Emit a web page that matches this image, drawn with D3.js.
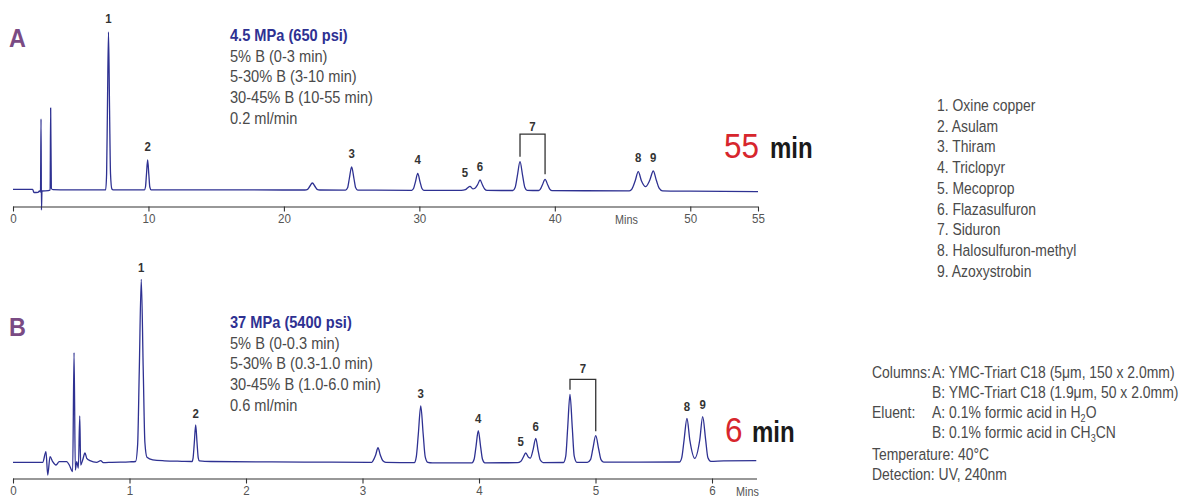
<!DOCTYPE html>
<html>
<head>
<meta charset="utf-8">
<script src="https://cdn.jsdelivr.net/npm/d3@7/dist/d3.min.js"></script>
<style>
  html, body { margin: 0; padding: 0; background: #fff; }
  svg { display: block; }
  text { font-family: 'Liberation Sans', Arial, sans-serif; }
</style>
</head>
<body>
<svg id="chart" width="1180" height="497"></svg>
<script>
// ---------------- DATA ----------------
// Chromatogram A (55 min run): [time (min), signal (rel. units)]
const traceA = [
  [0, 0.7], [1.45, 0.6], [1.55, -2.5], [1.85, -2.3], [1.95, -1], [2.03, -2], [2.07, 71], [2.1, -20], [2.14, -1],
  [2.6, -0.6], [2.74, 0], [2.78, 82], [2.83, 1.5], [2.95, 0.3], [3.5, 0.2],
  [6.84, 0.2], [6.91, 16], [6.97, 79], [7.05, 158], [7.13, 79], [7.2, 16], [7.3, 1], [7.4, 0.2],
  [9.7, 0.1], [9.78, 3], [9.85, 15], [9.94, 30], [10.03, 15], [10.1, 3], [10.2, 0.1],
  [12, 0.1], [20, 0],
  [21.55, 0], [21.75, 0.7], [21.9, 3.5], [22.1, 7], [22.3, 3.5], [22.45, 0.7], [22.65, 0],
  [24.55, -0.1], [24.7, 2.2], [24.83, 11.5], [25.0, 23], [25.17, 11.5], [25.3, 2.2], [25.45, -0.1],
  [29.43, -0.3], [29.57, 1.5], [29.71, 8.2], [29.88, 16.7], [30.05, 8.2], [30.19, 1.5], [30.33, -0.3],
  [33.1, -0.4], [33.4, 0.3], [33.55, 2], [33.74, 3.6], [33.95, 1.2], [34.1, 1.8], [34.3, 5.3], [34.48, 10],
  [34.66, 5], [34.82, 1], [35.0, -0.4],
  [36.9, -0.5], [37.07, 2.5], [37.23, 13.8], [37.43, 28.3], [37.63, 13.8], [37.79, 2.5], [37.95, -0.3],
  [38.8, -0.5], [38.92, 0.7], [39.08, 5], [39.28, 10.7], [39.48, 5], [39.64, 0.7], [39.8, -0.6],
  [45.5, -0.8], [45.7, 1.2], [45.93, 9], [46.16, 18.3], [46.4, 9], [46.7, 3.3], [47.0, 9.5], [47.27, 19],
  [47.5, 9.5], [47.7, 1.8], [47.95, -0.9], [50, -1.2], [55, -1.7]
];
// Chromatogram B (6 min run)
const traceB = [
  [0, 0], [0.255, 0], [0.283, 10.6], [0.298, -12.7], [0.318, 5.6], [0.341, 0.6], [0.369, -2.7], [0.397, 0.6],
  [0.461, 0.6], [0.483, -2.7], [0.512, -9.4], [0.524, 109.6], [0.535, -7.7], [0.547, 0.6], [0.561, -5.7],
  [0.573, 46.3], [0.581, -2.7], [0.598, 2.3], [0.618, 9.3], [0.633, 4], [0.661, 1.6], [0.718, 0], [0.753, 1.6],
  [0.775, -0.4], [0.85, 0], [1.0, 0.5],
  [1.052, 0.8], [1.07, 18], [1.084, 92], [1.101, 183], [1.118, 92], [1.132, 20], [1.15, 5], [1.2, 2.5], [1.3, 1.5], [1.45, 1],
  [1.537, 0.8], [1.546, 4.5], [1.556, 19], [1.568, 37.3], [1.58, 19], [1.59, 4.5], [1.6, 1.5], [1.7, 0.8],
  [2.5, 0.2], [3.05, 0],
  [3.08, 0], [3.09, 1.5], [3.113, 7.3], [3.133, 14.6], [3.153, 7.3], [3.175, 1.5], [3.2, 0],
  [3.445, -0.3], [3.462, 5.7], [3.479, 28], [3.5, 56.5], [3.521, 28], [3.538, 5.7], [3.56, 0], [3.6, -0.5],
  [3.94, -0.5], [3.958, 3], [3.974, 15.5], [3.994, 31.6], [4.014, 15.5], [4.03, 3], [4.05, -0.5],
  [4.33, -0.4], [4.36, 1], [4.38, 5], [4.401, 9.3], [4.425, 5], [4.44, 4.2], [4.465, 13], [4.487, 24],
  [4.507, 12], [4.525, 2.5], [4.55, -0.3],
  [4.725, -0.2], [4.745, 6.5], [4.761, 34], [4.781, 68], [4.801, 34], [4.817, 6.5], [4.84, 0],
  [4.93, 0], [4.957, 2.7], [4.977, 13.3], [5.002, 26.6], [5.027, 13.3], [5.047, 2.7], [5.07, 0.2],
  [5.72, 0.3], [5.74, 4.5], [5.76, 22], [5.785, 43.8], [5.81, 22], [5.852, 4], [5.895, 22.5], [5.92, 45.6],
  [5.945, 23], [5.965, 4.5], [5.99, 1], [6.1, 1.4], [6.38, 1.6]
];

// Labelled peaks: number, retention time, apex signal
const peakNumbers = ["1", "2", "3", "4", "5", "6", "8", "9"];
const peakTimesA   = [7.05, 9.94, 25.0, 29.88, 33.74, 34.48, 46.16, 47.27];
const peakHeightsA = [158, 30, 23, 16.7, 3.6, 10, 18.3, 19];
const peakTimesB   = [1.101, 1.568, 3.5, 3.994, 4.401, 4.487, 5.785, 5.92];
const peakHeightsB = [183, 37.3, 56.5, 31.6, 9.3, 24, 43.8, 45.6];
// Peak 7 (Siduron) is a bracketed pair
const siduronTimesA = [37.43, 39.28];
const siduronHeightsA = [28.3, 10.7];
const siduronTimesB = [4.781, 5.002];
const siduronHeightsB = [68, 26.6];

const ticksA = [0, 10, 20, 30, 40, 50, 55];
const ticksB = [0, 1, 2, 3, 4, 5, 6];
const axisUnit = "Mins";

const panelLetters = ["A", "B"];
const runTimes = ["55", "6"];
const runUnit = "min";

const conditionsA = ["4.5 MPa (650 psi)", "5% B (0-3 min)", "5-30% B (3-10 min)", "30-45% B (10-55 min)", "0.2 ml/min"];
const conditionsB = ["37 MPa (5400 psi)", "5% B (0-0.3 min)", "5-30% B (0.3-1.0 min)", "30-45% B (1.0-6.0 min)", "0.6 ml/min"];

const compounds = ["Oxine copper", "Asulam", "Thiram", "Triclopyr", "Mecoprop", "Flazasulfuron",
                   "Siduron", "Halosulfuron-methyl", "Azoxystrobin"];

// ---------------- DRAW ----------------
const svg = d3.select("#chart");
const traceColor = "#2e3192";
const textGray = "#4a4a4a";
const darkText = "#333";
const NARROW = 0.82;

// narrow text helper: horizontally condensed text anchored at (x, y)
function nt(parent, x, y, sx) {
  return parent.append("text").attr("transform", `translate(${x},${y}) scale(${sx || NARROW},1)`);
}

const xA = d3.scaleLinear().domain([0, 55]).range([13, 758]);
const yA = d3.scaleLinear().domain([0, 158]).range([190, 32]);
const xB = d3.scaleLinear().domain([0, 6]).range([13, 712]);
const yB = d3.scaleLinear().domain([0, 183]).range([462.3, 279.3]);

function drawPanel(cfg) {
  const g = svg.append("g");
  const line = d3.line().x(d => cfg.x(d[0])).y(d => cfg.y(d[1])).curve(d3.curveMonotoneX);
  g.append("path").datum(cfg.trace)
    .attr("d", line).attr("fill", "none")
    .attr("stroke", traceColor).attr("stroke-width", 1.3).attr("stroke-linejoin", "round");

  // axis
  const ax = g.append("g").attr("transform", `translate(0,${cfg.axisY})`)
    .call(d3.axisBottom(cfg.x).tickValues(cfg.ticks).tickSize(5).tickSizeOuter(0).tickFormat(d3.format("d")));
  ax.select(".domain").attr("stroke", "#333").attr("stroke-width", 1.2)
    .attr("d", `M${cfg.x.range()[0]},0.5H${cfg.axisEnd}`);
  ax.selectAll(".tick line").attr("stroke", "#333").attr("stroke-width", 1.1);
  ax.selectAll(".tick text").attr("fill", "#555").attr("font-size", 13.5).attr("dy", "0.62em")
    .attr("font-family", "'Liberation Sans', Arial, sans-serif")
    .attr("transform", "scale(0.86,1)");
  nt(g, cfg.minsX, cfg.axisY + 17, 0.9)
    .attr("font-size", 12).attr("fill", "#555").text(axisUnit);

  // peak labels
  peakNumbers.forEach((d, i) => {
    nt(g, cfg.x(cfg.times[i]) + (d === "5" ? -5 : 0), cfg.y(cfg.heights[i]) - cfg.labelGap, 0.88)
      .attr("text-anchor", "middle").attr("font-size", 13).attr("font-weight", "bold")
      .attr("fill", darkText).text(d);
  });

  // bracket for peak 7
  const bx1 = cfg.x(cfg.sidT[0]), bx2 = cfg.x(cfg.sidT[1]);
  const by1 = cfg.y(cfg.sidH[0]) - cfg.legGap, by2 = cfg.y(cfg.sidH[1]) - cfg.legGap;
  const top = cfg.y(cfg.sidH[0]) - cfg.bracketRise;
  g.append("path")
    .attr("d", `M${bx1},${by1}V${top}H${bx2}V${by2}`)
    .attr("fill", "none").attr("stroke", "#333").attr("stroke-width", 1.3);
  nt(g, (bx1 + bx2) / 2, top - cfg.sevenGap, 0.88)
    .attr("text-anchor", "middle").attr("font-size", 13).attr("font-weight", "bold")
    .attr("fill", darkText).text("7");

  // panel letter
  nt(g, 9, cfg.letterY, 0.9).attr("font-size", 26).attr("font-weight", "bold")
    .attr("fill", "#7a4b84").text(cfg.letter);

  // conditions block
  cfg.cond.forEach((d, i) => {
    nt(g, 230, cfg.condY + i * 20.7, 0.845)
      .attr("font-size", 17.3)
      .attr("font-weight", i === 0 ? "bold" : "normal")
      .attr("fill", i === 0 ? traceColor : textGray)
      .text(d);
  });

  // run time
  nt(g, cfg.rtX, cfg.rtY, 0.9).attr("font-size", 35).attr("fill", "#d7262d").text(cfg.runTime);
  nt(g, cfg.minX, cfg.rtY, 0.8).attr("font-size", 30).attr("font-weight", "bold").attr("fill", "#1a1a1a").text(runUnit);
}

drawPanel({
  x: xA, y: yA, trace: traceA, axisY: 206.5, axisEnd: 758, ticks: ticksA, minsX: 615,
  times: peakTimesA, heights: peakHeightsA, labelGap: 9.5,
  sidT: siduronTimesA, sidH: siduronHeightsA, legGap: 5, bracketRise: 27.5, sevenGap: 3.5,
  letter: panelLetters[0], letterY: 46.7, cond: conditionsA, condY: 41,
  runTime: runTimes[0], rtX: 724, rtY: 157.5, minX: 770
});
drawPanel({
  x: xB, y: yB, trace: traceB, axisY: 478.5, axisEnd: 757, ticks: ticksB, minsX: 736,
  times: peakTimesB, heights: peakHeightsB, labelGap: 7.5,
  sidT: siduronTimesB, sidH: siduronHeightsB, legGap: 4.5, bracketRise: 15, sevenGap: 6.5,
  letter: panelLetters[1], letterY: 335.5, cond: conditionsB, condY: 328,
  runTime: runTimes[1], rtX: 725, rtY: 441.5, minX: 752
});

// compound legend
const leg = svg.append("g");
compounds.forEach((d, i) => {
  nt(leg, 937, 111 + i * 20.7).attr("font-size", 17).attr("fill", textGray).text(`${i + 1}. ${d}`);
});

// method conditions
const meth = svg.append("g");
const mx1 = 872, mx2 = 932;
function mt(x, y) { return nt(meth, x, y).attr("font-size", 17).attr("fill", textGray); }
mt(mx1, 378).text("Columns:");
mt(mx2, 378).text("A: YMC-Triart C18 (5μm, 150 x 2.0mm)");
mt(mx2, 398).text("B: YMC-Triart C18 (1.9μm, 50 x 2.0mm)");
mt(mx1, 418).text("Eluent:");
{
  const t = mt(mx2, 418);
  t.append("tspan").text("A: 0.1% formic acid in H");
  t.append("tspan").attr("font-size", 11).attr("dy", 4).text("2");
  t.append("tspan").attr("dy", -4).text("O");
  const t2 = mt(mx2, 438);
  t2.append("tspan").text("B: 0.1% formic acid in CH");
  t2.append("tspan").attr("font-size", 11).attr("dy", 4).text("3");
  t2.append("tspan").attr("dy", -4).text("CN");
}
mt(mx1, 459.5).text("Temperature: 40°C");
mt(mx1, 480).text("Detection: UV, 240nm");
</script>
</body>
</html>
